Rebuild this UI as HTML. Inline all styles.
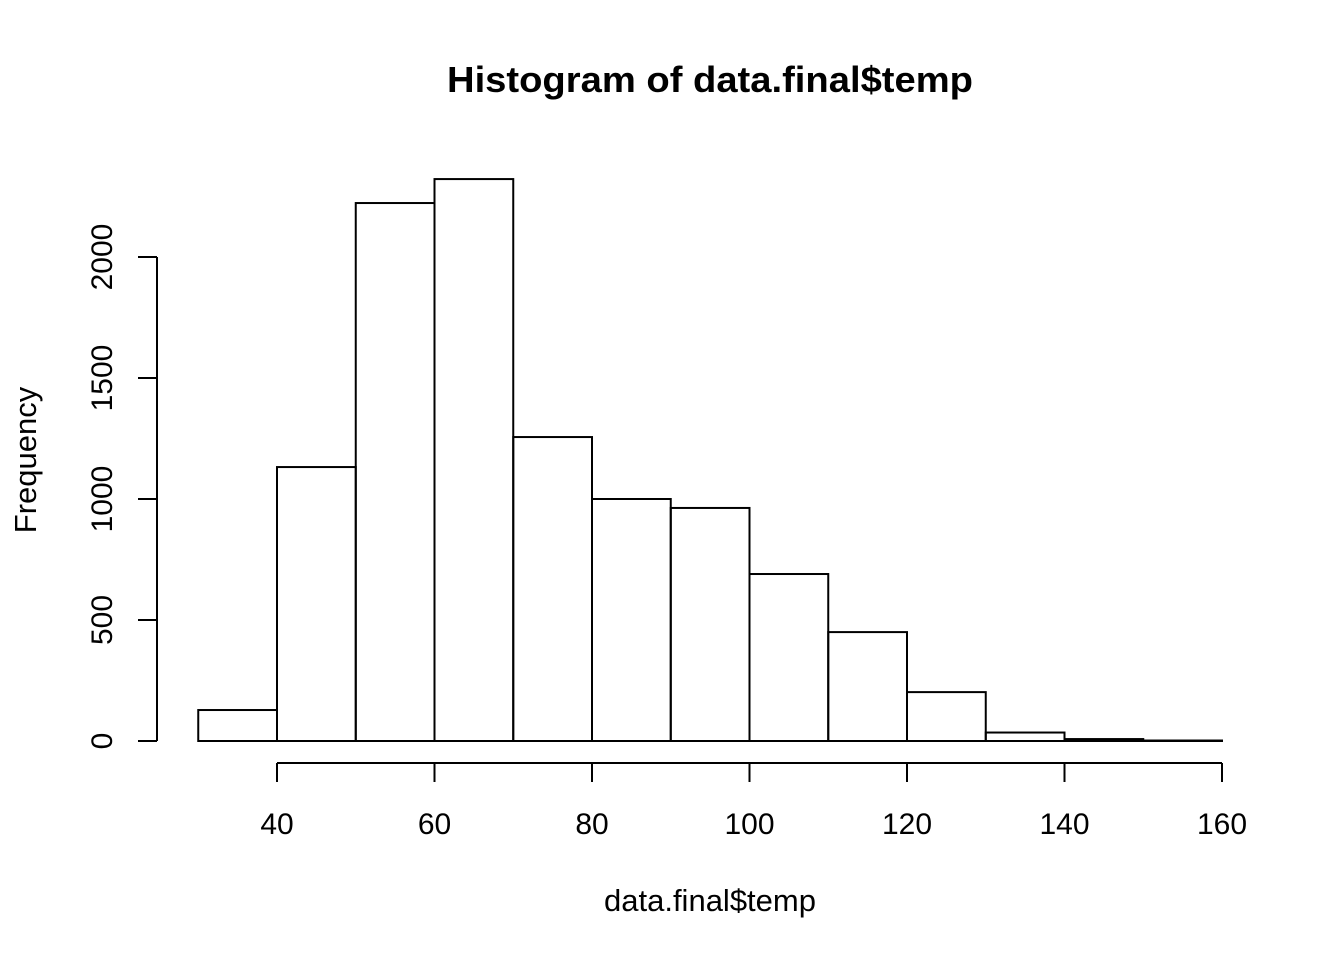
<!DOCTYPE html>
<html><head><meta charset="utf-8"><style>
body{margin:0;background:#fff}
svg text{font-family:"Liberation Sans",Arial,sans-serif;fill:#000}
</style></head><body>
<svg width="1344" height="960" viewBox="0 0 1344 960">
<text x="710" y="92" font-size="36" font-weight="bold" text-anchor="middle" textLength="526" lengthAdjust="spacingAndGlyphs">Histogram of data.final$temp</text>
<text x="710" y="911" font-size="31" text-anchor="middle">data.final$temp</text>
<text transform="translate(36,460) rotate(-90)" font-size="31" text-anchor="middle">Frequency</text>
<g id="bars"></g>
<g id="xaxis"></g>
<g id="yaxis"></g>
</svg>
<script>
const binStarts=[30,40,50,60,70,80,90,100,110,120,130,140,150];
const binWidth=10;
const counts=[128,1132,2223,2322,1256,1000,963,690,450,202,35,8,2];
const xTicks=[40,60,80,100,120,140,160];
const yTicks=[0,500,1000,1500,2000];
const NS="http://www.w3.org/2000/svg";
const xs=v=>277+(v-40)*(1222-277)/120;
const ys=v=>741-v*(741-257)/2000;
function mk(t,a,p){const e=document.createElementNS(NS,t);for(const k in a)e.setAttribute(k,a[k]);p.appendChild(e);return e;}
const bars=document.getElementById('bars');
binStarts.forEach((b,i)=>{
 const x0=xs(b),x1=xs(b+binWidth),y=ys(counts[i]);
 const r=mk('rect',{x:x0,y:y,width:x1-x0,height:741-y,fill:'none',stroke:'#000','stroke-width':2},bars);
 
 
});
const xa=document.getElementById('xaxis');
mk('line',{x1:xs(xTicks[0]),x2:xs(xTicks[xTicks.length-1]),y1:763,y2:763,stroke:'#000','stroke-width':2},xa);
xTicks.forEach(t=>{
 mk('line',{x1:xs(t),x2:xs(t),y1:763,y2:782,stroke:'#000','stroke-width':2},xa);
 const tx=mk('text',{x:xs(t),y:834,'font-size':30,'text-anchor':'middle'},xa);tx.textContent=t;
 
 
});
const ya=document.getElementById('yaxis');
mk('line',{x1:157,x2:157,y1:ys(yTicks[0]),y2:ys(yTicks[yTicks.length-1]),stroke:'#000','stroke-width':2},ya);
yTicks.forEach(t=>{
 mk('line',{x1:138,x2:157,y1:ys(t),y2:ys(t),stroke:'#000','stroke-width':2},ya);
 const tx=mk('text',{transform:`translate(112,${ys(t)}) rotate(-90)`,'font-size':30,'text-anchor':'middle'},ya);tx.textContent=t;
 
 
});
</script>
</body></html>
